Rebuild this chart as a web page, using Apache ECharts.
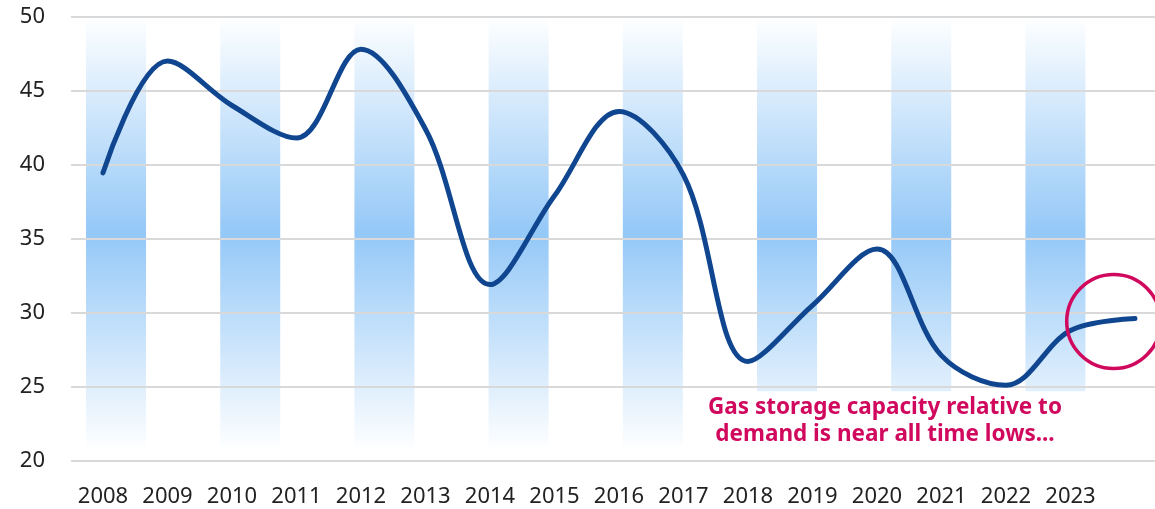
<!DOCTYPE html>
<html>
<head>
<meta charset="utf-8">
<script src="https://cdn.jsdelivr.net/npm/echarts@6/dist/echarts.min.js"></script>
<style>
  html, body { margin: 0; padding: 0; background: #fff; }
  #chart { width: 1155px; height: 509px; }
</style>
</head>
<body>
<div id="chart"></div>
<script>
// storage capacity relative to demand, one point per year (2024 = latest)
const lineYears  = [2008, 2009, 2010, 2011, 2012, 2013, 2014, 2015, 2016,
                    2017, 2018, 2019, 2020, 2021, 2022, 2023, 2024];
const lineValues = [39.45, 47.0, 44.0, 41.8, 47.8, 42.4, 31.9, 37.9, 43.6,
                    39.3, 26.7, 30.5, 34.3, 27.1, 25.1, 28.8, 29.6];

// shaded background columns (every other year)
const barYears = [2008, 2010, 2012, 2014, 2016, 2018, 2020, 2022];
const barLow   = [20.9, 20.9, 20.9, 20.9, 20.9, 24.7, 24.7, 24.7];
const barHigh  = [49.8, 49.8, 49.8, 49.8, 49.8, 49.8, 49.8, 49.8];

// highlighted latest reading
const circlePoint = [2023.67, 29.4];
const noteText = "Gas storage capacity relative to\ndemand is near all time lows...";

const yTicks = { min: 20, max: 50, interval: 5 };

const BLUE = "#10468f";
const MAGENTA = "#d1095e";
const FONT = "'Noto Sans', 'Open Sans', sans-serif";

const chart = echarts.init(document.getElementById("chart"), null, { renderer: "canvas" });

chart.setOption({
  animation: false,
  backgroundColor: "#fff",
  textStyle: { fontFamily: FONT },
  grid: [
    { left: 71, right: 0, top: 16.7, bottom: 48.3 },   // gridlines + columns
    { left: 103, right: 20, top: 16.7, bottom: 48.3 }, // line + year labels
  ],
  xAxis: [
    { type: "value", gridIndex: 0, min: 2007.329, max: 2023.484, show: false },
    {
      type: "value", gridIndex: 1, min: 2008, max: 2024, interval: 1,
      axisLine: { show: false }, axisTick: { show: false }, splitLine: { show: false },
      axisLabel: {
        color: "#222", fontSize: 22, margin: 25, fontFamily: FONT,
        formatter: v => (v >= 2024 ? "" : String(v)),
      },
    },
  ],
  yAxis: [
    {
      type: "value", gridIndex: 0, ...yTicks, z: 3,
      axisLine: { show: false }, axisTick: { show: false },
      axisLabel: { color: "#222", fontSize: 22, margin: 26, fontFamily: FONT },
      splitLine: { lineStyle: { color: "#d9d9d9", width: 2 } },
    },
    { type: "value", gridIndex: 1, ...yTicks, show: false },
  ],
  series: [
    {
      type: "custom",
      xAxisIndex: 0, yAxisIndex: 0, z: 1,
      data: barYears.map((y, i) => [y, barLow[i], barHigh[i]]),
      renderItem(params, api) {
        const x = api.value(0);
        const top = api.coord([x, api.value(2)]);
        const bot = api.coord([x, api.value(1)]);
        const g0 = api.coord([x, 49.8])[1];
        const g1 = api.coord([x, 20.9])[1];
        const w = 60;
        return {
          type: "rect",
          shape: { x: top[0] - w / 2, y: top[1], width: w, height: bot[1] - top[1] },
          style: {
            fill: new echarts.graphic.LinearGradient(0, g0, 0, g1, [
              { offset: 0, color: "#fdfeff" },
              { offset: 0.5, color: "#94c8f7" },
              { offset: 1, color: "#fdfeff" },
            ], true),
          },
        };
      },
    },
    {
      type: "line",
      xAxisIndex: 1, yAxisIndex: 1, z: 4,
      data: lineYears.map((y, i) => [y, lineValues[i]]),
      smooth: 0.35,
      symbol: "none",
      lineStyle: { color: BLUE, width: 5, cap: "round", join: "round" },
    },
    {
      type: "scatter",
      xAxisIndex: 1, yAxisIndex: 1, z: 5,
      data: [circlePoint],
      symbol: "circle",
      symbolSize: 94,
      itemStyle: { color: "rgba(0,0,0,0)", borderColor: MAGENTA, borderWidth: 3.5, opacity: 1 },
      silent: true,
    },
  ],
  graphic: [
    {
      type: "text",
      x: 885, y: 421,
      style: {
        text: noteText,
        fill: MAGENTA,
        font: "bold 22.5px " + FONT,
        align: "center",
        verticalAlign: "middle",
        lineHeight: 27,
      },
    },
  ],
});
</script>
</body>
</html>
